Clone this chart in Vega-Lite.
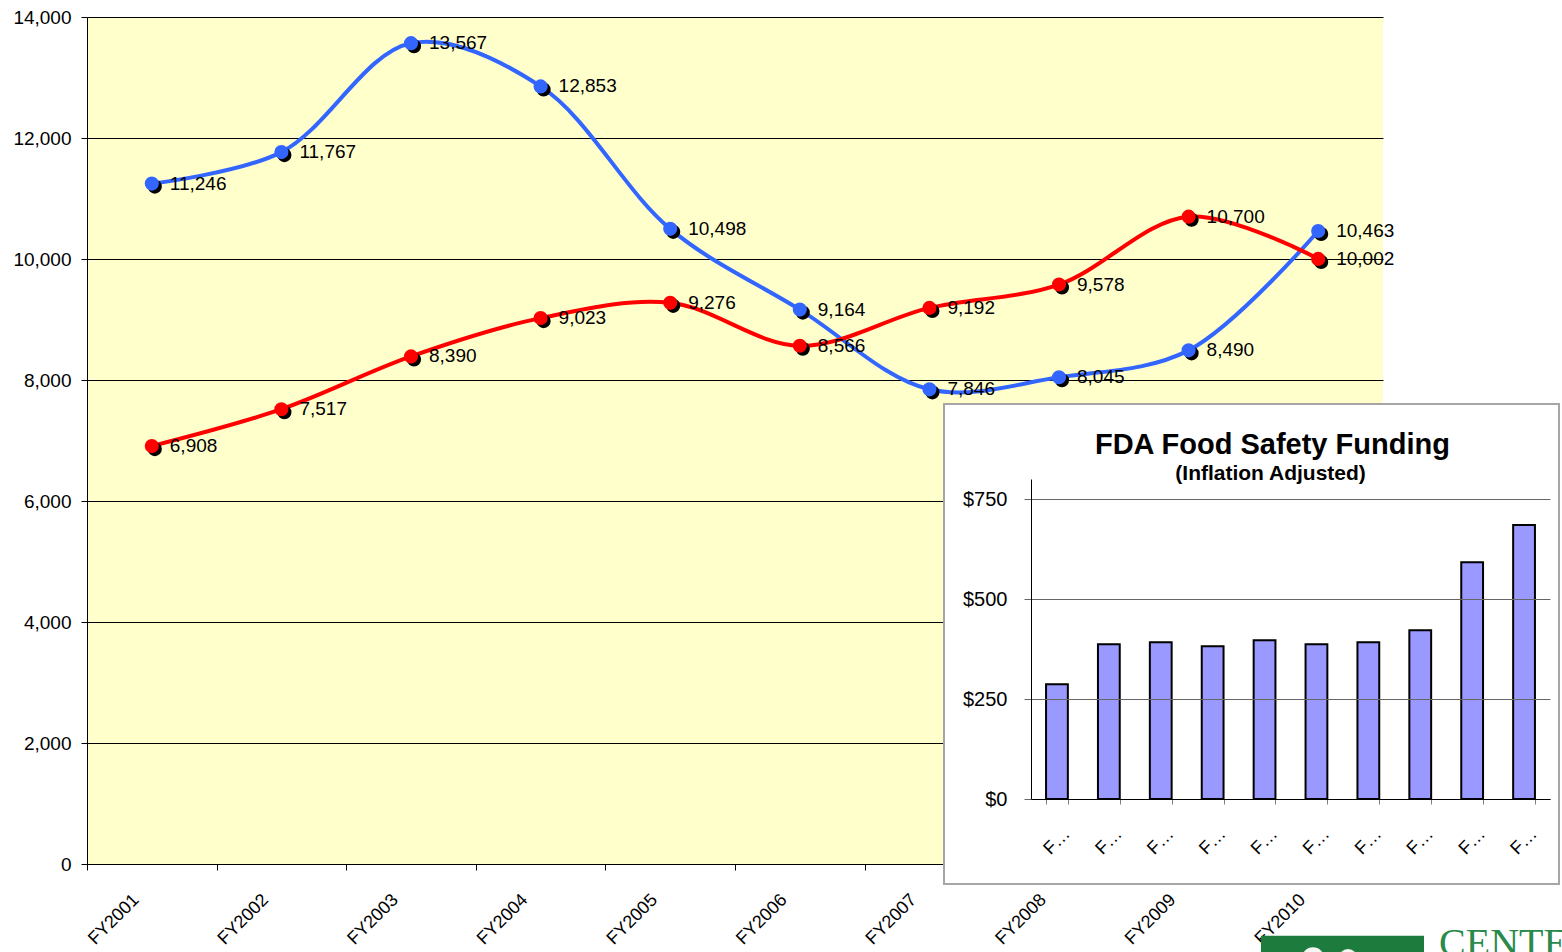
{
  "$schema": "https://vega.github.io/schema/vega-lite/v6.json",
  "background": "white",
  "padding": {"left": 12, "top": 8, "right": 0, "bottom": 0},
  "width": 1296,
  "height": 847,
  "view": {"fill": "#FFFFCC", "stroke": null},
  "config": {
    "font": "Liberation Sans, Arial, sans-serif",
    "axis": {"labelFont": "Liberation Sans, Arial, sans-serif", "labelColor": "black", "title": null}
  },
  "resolve": {"scale": {"x": "independent", "y": "independent"}, "axis": {"x": "independent", "y": "independent"}},
  "layer": [
    {
      "data": {"values": [
        {"year": "FY2001", "series": "Series 1", "value": 11246},
        {"year": "FY2002", "series": "Series 1", "value": 11767},
        {"year": "FY2003", "series": "Series 1", "value": 13567},
        {"year": "FY2004", "series": "Series 1", "value": 12853},
        {"year": "FY2005", "series": "Series 1", "value": 10498},
        {"year": "FY2006", "series": "Series 1", "value": 9164},
        {"year": "FY2007", "series": "Series 1", "value": 7846},
        {"year": "FY2008", "series": "Series 1", "value": 8045},
        {"year": "FY2009", "series": "Series 1", "value": 8490},
        {"year": "FY2010", "series": "Series 1", "value": 10463},
        {"year": "FY2001", "series": "Series 2", "value": 6908},
        {"year": "FY2002", "series": "Series 2", "value": 7517},
        {"year": "FY2003", "series": "Series 2", "value": 8390},
        {"year": "FY2004", "series": "Series 2", "value": 9023},
        {"year": "FY2005", "series": "Series 2", "value": 9276},
        {"year": "FY2006", "series": "Series 2", "value": 8566},
        {"year": "FY2007", "series": "Series 2", "value": 9192},
        {"year": "FY2008", "series": "Series 2", "value": 9578},
        {"year": "FY2009", "series": "Series 2", "value": 10700},
        {"year": "FY2010", "series": "Series 2", "value": 10002}
      ]},
      "encoding": {
        "x": {
          "field": "year", "type": "ordinal", "bandPosition": 0.5,
          "scale": {"type": "band", "paddingInner": 0, "paddingOuter": 0},
          "axis": {
            "orient": "bottom", "zindex": 0,
            "tickBand": "extent", "labelAngle": -45, "labelAlign": "right", "labelBaseline": "middle",
            "labelFontSize": 18, "labelOffset": -16, "labelPadding": 27, "tickSize": 6,
            "tickColor": "black", "domainColor": "black", "grid": false
          }
        },
        "y": {
          "field": "value", "type": "quantitative",
          "scale": {"domain": [0, 14000], "nice": false},
          "axis": {
            "orient": "left", "zindex": 0,
            "values": [0, 2000, 4000, 6000, 8000, 10000, 12000, 14000], "format": ",.0f",
            "labelFontSize": 19, "labelPadding": 10, "tickSize": 6, "tickColor": "black",
            "domainColor": "black", "grid": true, "gridColor": "black", "gridOpacity": 1, "gridWidth": 1
          }
        }
      },
      "layer": [
        {
          "mark": {"type": "line", "interpolate": "catmull-rom", "strokeWidth": 4},
          "encoding": {
            "color": {"field": "series", "type": "nominal", "scale": {"domain": ["Series 1", "Series 2"], "range": ["#3366FF", "#FF0000"]}, "legend": null}
          }
        },
        {
          "mark": {"type": "circle", "size": 200, "opacity": 1, "color": "black", "xOffset": 3, "yOffset": 3}
        },
        {
          "mark": {"type": "circle", "size": 200, "opacity": 1},
          "encoding": {
            "color": {"field": "series", "type": "nominal", "scale": {"domain": ["Series 1", "Series 2"], "range": ["#3366FF", "#FF0000"]}, "legend": null}
          }
        },
        {
          "mark": {"type": "text", "align": "left", "baseline": "middle", "dx": 18, "fontSize": 19, "color": "black"},
          "encoding": {"text": {"field": "value", "type": "quantitative", "format": ",.0f"}}
        }
      ]
    },
    {
      "data": {"values": [{"title": "FDA Food Safety Funding", "subtitle": "(Inflation Adjusted)", "logo": "CENTER"}]},
      "layer": [
        {
          "mark": {"type": "rect", "fill": "white", "stroke": "#A6A6A6", "strokeWidth": 2},
          "encoding": {
            "x": {"datum": 0, "type": "quantitative", "scale": {"domain": [0, 1], "range": [857, 1472]}, "axis": null},
            "x2": {"datum": 1},
            "y": {"datum": 0, "type": "quantitative", "scale": {"domain": [0, 1], "range": [387, 867]}, "axis": null},
            "y2": {"datum": 1}
          }
        },
        {
          "mark": {"type": "text", "align": "center", "baseline": "alphabetic", "fontSize": 29, "fontWeight": "bold", "color": "black"},
          "encoding": {
            "x": {"datum": 0.534, "type": "quantitative", "scale": {"domain": [0, 1], "range": [857, 1472]}, "axis": null},
            "y": {"datum": 0.104, "type": "quantitative", "scale": {"domain": [0, 1], "range": [387, 867]}, "axis": null},
            "text": {"field": "title"}
          }
        },
        {
          "mark": {"type": "text", "align": "center", "baseline": "alphabetic", "fontSize": 21, "fontWeight": "bold", "color": "black"},
          "encoding": {
            "x": {"datum": 0.531, "type": "quantitative", "scale": {"domain": [0, 1], "range": [857, 1472]}, "axis": null},
            "y": {"datum": 0.158, "type": "quantitative", "scale": {"domain": [0, 1], "range": [387, 867]}, "axis": null},
            "text": {"field": "subtitle"}
          }
        },
        {
          "mark": {"type": "rect", "fill": "#1E7B3E"},
          "encoding": {
            "x": {"datum": 0.5154, "type": "quantitative", "scale": {"domain": [0, 1], "range": [857, 1472]}, "axis": null},
            "x2": {"datum": 0.7805},
            "y": {"datum": 1.108, "type": "quantitative", "scale": {"domain": [0, 1], "range": [387, 867]}, "axis": null},
            "y2": {"datum": 1.2}
          }
        },
        {
          "mark": {"type": "circle", "size": 500, "opacity": 1, "color": "#F2F7F2"},
          "encoding": {
            "x": {"datum": 0.6, "type": "quantitative", "scale": {"domain": [0, 1], "range": [857, 1472]}, "axis": null},
            "y": {"datum": 1.155, "type": "quantitative", "scale": {"domain": [0, 1], "range": [387, 867]}, "axis": null}
          }
        },
        {
          "mark": {"type": "circle", "size": 350, "opacity": 1, "color": "#F2F7F2"},
          "encoding": {
            "x": {"datum": 0.657, "type": "quantitative", "scale": {"domain": [0, 1], "range": [857, 1472]}, "axis": null},
            "y": {"datum": 1.155, "type": "quantitative", "scale": {"domain": [0, 1], "range": [387, 867]}, "axis": null}
          }
        },
        {
          "mark": {"type": "text", "align": "left", "baseline": "alphabetic", "font": "Liberation Serif, serif", "fontSize": 40, "color": "#2A8A4C"},
          "encoding": {
            "x": {"datum": 0.805, "type": "quantitative", "scale": {"domain": [0, 1], "range": [857, 1472]}, "axis": null},
            "y": {"datum": 1.15, "type": "quantitative", "scale": {"domain": [0, 1], "range": [387, 867]}, "axis": null},
            "text": {"field": "logo"}
          }
        }
      ]
    },
    {
      "data": {"values": [
        {"year": "FY2001", "funding": 287},
        {"year": "FY2002", "funding": 387},
        {"year": "FY2003", "funding": 392},
        {"year": "FY2004", "funding": 382},
        {"year": "FY2005", "funding": 397},
        {"year": "FY2006", "funding": 387},
        {"year": "FY2007", "funding": 392},
        {"year": "FY2008", "funding": 422},
        {"year": "FY2009", "funding": 592},
        {"year": "FY2010", "funding": 685}
      ]},
      "mark": {"type": "bar", "fill": "#9999FF", "stroke": "black", "strokeWidth": 2},
      "encoding": {
        "x": {
          "field": "year", "type": "ordinal",
          "scale": {"type": "band", "range": [944, 1463], "paddingInner": 0.58, "paddingOuter": 0.29},
          "axis": {
            "orient": "bottom", "offset": -65, "zindex": 2, "tickBand": "extent",
            "labelAngle": -45, "labelAlign": "right", "labelBaseline": "middle",
            "labelFontSize": 18, "labelLimit": 30, "labelOffset": 10, "labelPadding": 27, "tickSize": 5,
            "tickColor": "#808080", "domainColor": "black", "grid": false
          }
        },
        "y": {
          "field": "funding", "type": "quantitative",
          "scale": {"domain": [0, 800], "range": [782, 462], "nice": false},
          "axis": {
            "orient": "left", "offset": -944, "zindex": 2,
            "values": [0, 250, 500, 750], "labelExpr": "'$' + datum.label",
            "labelFontSize": 20, "labelPadding": 17, "tickSize": 7, "tickColor": "#666666",
            "domainColor": "black", "grid": true, "gridColor": "#666666", "gridOpacity": 1, "gridWidth": 1
          }
        }
      }
    }
  ]
}
